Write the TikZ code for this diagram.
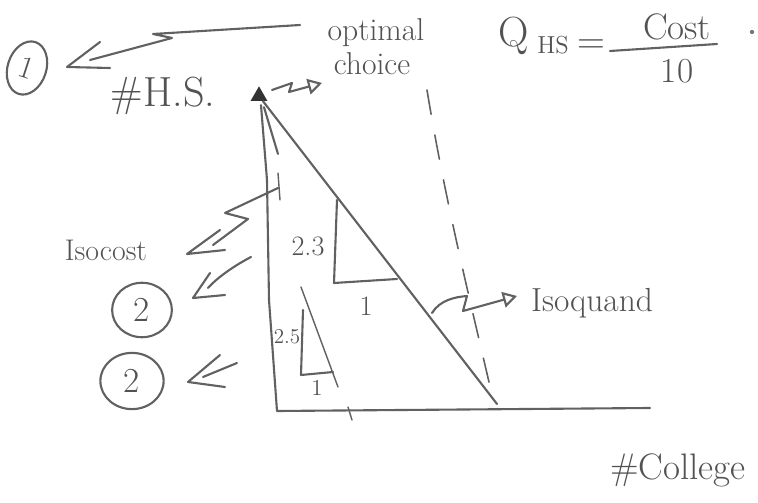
\documentclass[tikz,border=0pt]{standalone}
\usetikzlibrary{arrows.meta,shapes.geometric}
\begin{document}
\begin{tikzpicture}[x=0.02cm,y=-0.02cm,
  ink/.style={draw=black!62, line width=1.2pt, line cap=round, line join=round},
  thinink/.style={ink, line width=0.8pt},
  hand/.style={text=black!68, inner sep=0pt},
  ring/.style={ink, ellipse, inner sep=0pt, text=black!68},
  tipmark/.style={regular polygon, regular polygon sides=3, fill=black!80, minimum size=11pt, inner sep=0pt},
  openhead/.style={ink, -{Triangle[open, length=8pt, width=9pt]}},
  dashline/.style={ink, line width=0.9pt, dash pattern=on 14pt off 12pt}
]
\useasboundingbox (0,0) rectangle (758,503);
\fill[white] (0,0) rectangle (758,503);

% texts
\node[hand, font=\fontsize{18}{20}\selectfont] (opt) at (376,33) {optimal};
\node[hand, font=\fontsize{18}{20}\selectfont] (cho) at (372,64) {choice};
\node[hand, font=\fontsize{24}{26}\selectfont] (hsl) at (163,96) {\#H.S.};
\node[hand, font=\fontsize{17}{19}\selectfont] (isoc) at (106,250) {Isocost};
\node[hand, font=\fontsize{19}{21}\selectfont] (isoq) at (592,303) {Isoquand};
\node[hand, font=\fontsize{21}{23}\selectfont] (col) at (678,470) {\#College};

% formula
\node[hand, font=\fontsize{24}{26}\selectfont] (Q) at (514,36) {Q};
\node[hand, font=\fontsize{14}{16}\selectfont] (Qs) at (553,45) {HS};
\node[hand, font=\fontsize{22}{24}\selectfont] (eq) at (591,47) {=};
\node[hand, font=\fontsize{21}{23}\selectfont] (cost) at (677,27) {Cost};
\node[hand, font=\fontsize{20}{22}\selectfont] (ten) at (677,71) {10};
\coordinate (barL) at (610,51);
\coordinate (barR) at (717,44);
\draw[ink] (barL) -- (barR);
\fill[black!55] (752,32) circle (1.2pt);

% circled numbers
\node[ring, minimum width=22pt, minimum height=31pt, rotate=-18, font=\fontsize{18}{20}\selectfont] (c1) at (27,68) {1};
\node[ring, minimum width=34pt, minimum height=31pt, font=\fontsize{20}{22}\selectfont] (c2a) at (142,310) {2};
\node[ring, minimum width=36pt, minimum height=32pt, font=\fontsize{20}{22}\selectfont] (c2b) at (132,381) {2};

% axes and lines
\node[tipmark] (tip) at (259,96) {};
\coordinate (O) at (277,411);
\coordinate (xe) at (650,408);
\coordinate (de) at (497,404);
\draw[ink] (tip.south) ++(2,4) -- (267,180) -- (269,300) -- (O) -- (xe);
\draw[ink] (tip.south) ++(4,0) -- (de);
\draw[ink] (tip.south) ++(5,6) -- (278,154);
\draw[thinink] (278,173) -- (280,200);
\draw[thinink] (348,407) -- (352,420);
\draw[dashline] (427,90) .. controls (445,200) and (470,300) .. (492,395);

% slope triangles
\draw[ink] (337,200) -- (334,283) -- (397,279);
\node[hand, font=\fontsize{16}{18}\selectfont] (s1) at (308,246) {2.3};
\node[hand, font=\fontsize{16}{18}\selectfont] (r1) at (366,306) {1};
\draw[thinink] (301,287) -- (338,387);
\draw[ink] (303,310) -- (301,375) -- (333,372);
\node[hand, font=\fontsize{12}{14}\selectfont] (s2) at (287,337) {2.5};
\node[hand, font=\fontsize{13}{15}\selectfont] (r2) at (317,388) {1};

% optimal choice -> 1
\coordinate (a1) at (67,67);
\draw[ink] (300,25) -- (153,34) -- (172,38) -- (90,60);
\draw[ink] (100,42) -- (a1) -- (110,68);

% tip -> choice
\draw[openhead] (272,90) -- (292,83) -- (289,92) -- (322,83);

% isocost arrows
\coordinate (aA) at (187,254);
\draw[ink] (278,188) -- (225,213) -- (248,219) -- (213,245);
\draw[ink] (220,230) -- (aA) -- (225,250);
\coordinate (aB) at (193,298);
\draw[ink] (251,257) .. controls (230,268) and (215,280) .. (208,288);
\draw[ink] (210,273) -- (aB) -- (225,295);
\coordinate (aC) at (188,382);
\draw[ink] (237,363) -- (203,377);
\draw[ink] (220,355) -- (aC) -- (225,387);

% isoquand arrow
\draw[openhead] (432,313) .. controls (440,300) and (455,297) .. (467,296) -- (463,311) -- (517,296);
\end{tikzpicture}
\end{document}
